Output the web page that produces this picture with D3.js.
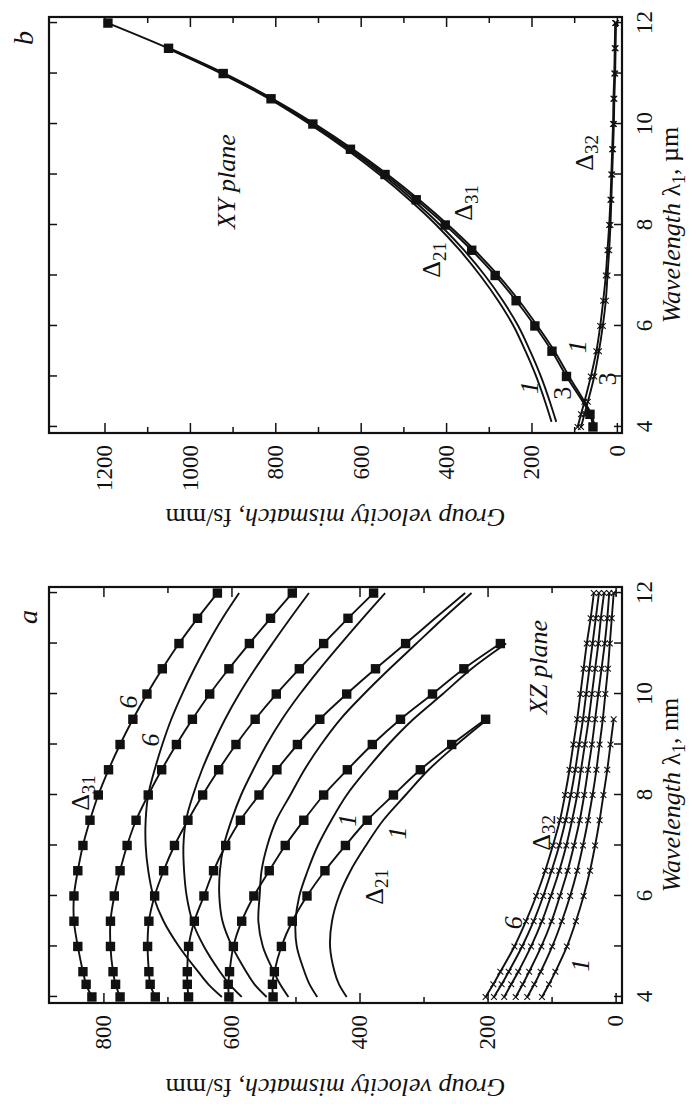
<!DOCTYPE html>
<html><head><meta charset="utf-8">
<script src="https://cdn.jsdelivr.net/npm/d3@7"></script>
<style>body{margin:0;background:#fff} svg{display:block}</style>
</head><body>
<svg id="c" width="690" height="1104"></svg>
<script>
// ---------- Panel a (XZ plane), wavelength in nm ----------
const lamA = [4, 4.25, 4.5, 5, 5.5, 6, 6.5, 7, 7.5, 8, 8.5, 9, 9.5, 10, 10.5, 11, 11.5, 12];
// Delta31 (square markers), parameter 1..6
const d31a_1 = [535, 536, 533, 522, 505, 482, 454, 422, 388, 347, 305, 256, 203];
const d31a_2 = [604, 605, 603, 597, 584, 565, 541, 516, 487, 456, 419, 380, 336, 286, 237, 180];
const d31a_3 = [667, 669, 669, 667, 658, 643, 628, 609, 586, 557, 529, 497, 462, 420, 375, 328, 282, 235];
const d31a_4 = [719, 727, 729, 731, 729, 720, 706, 689, 668, 645, 620, 593, 563, 530, 494, 456, 418, 378];
const d31a_5 = [774, 781, 785, 789, 789, 783, 774, 763, 749, 730, 709, 686, 661, 634, 604, 572, 539, 505];
const d31a_6 = [818, 827, 832, 840, 846, 846, 840, 832, 821, 808, 792, 774, 754, 732, 708, 682, 653, 622];
const d31a_3_lastMarkedLam = 11;
// Delta21 (plain lines)
const d21a_1 = [420, 432, 439, 446, 443, 432, 414, 390, 363, 328, 292, 248, 200];
const d21a_2 = [466, 478, 486, 498, 500, 494, 481, 465, 444, 420, 389, 355, 316, 270, 225, 171];
const d21a_3 = [511, 524, 534, 551, 558, 556, 553, 544, 530, 508, 486, 460, 430, 393, 353, 311, 269, 225];
const d21a_4 = [545, 564, 577, 599, 614, 619, 618, 612, 600, 585, 566, 545, 521, 493, 462, 429, 395, 360];
const d21a_5 = [584, 603, 618, 643, 661, 670, 674, 675, 671, 660, 646, 629, 610, 588, 563, 536, 508, 479];
const d21a_6 = [615, 636, 652, 682, 706, 722, 730, 734, 734, 730, 720, 708, 694, 677, 658, 637, 614, 588];
// Delta32 (cross markers)
const d32a_1 = [115, 104, 94, 76, 62, 50, 40, 32, 25, 19, 13, 8, 3];
const d32a_2 = [138, 127, 117, 99, 84, 71, 60, 51, 43, 36, 30, 25, 20, 16, 12, 9, 6, 3];
const d32a_3 = [156, 145, 135, 116, 100, 87, 75, 65, 56, 49, 43, 37, 32, 27, 22, 17, 13, 10];
const d32a_4 = [174, 163, 152, 132, 115, 101, 88, 77, 68, 60, 54, 48, 42, 37, 32, 27, 23, 18];
const d32a_5 = [190, 178, 167, 146, 128, 113, 100, 88, 78, 70, 63, 57, 51, 46, 41, 36, 31, 26];
const d32a_6 = [203, 191, 180, 158, 140, 124, 110, 98, 87, 79, 72, 66, 60, 55, 50, 45, 39, 34];

// ---------- Panel b (XY plane), wavelength in µm ----------
const lamB31 = [4, 4.25, 5, 5.5, 6, 6.5, 7, 7.5, 8, 8.5, 9, 9.5, 10, 10.5, 11, 11.5, 12];
const d31b_1 = [56, 63, 118, 152, 192, 236, 285, 340, 402, 470, 543, 624, 712, 810, 922, 1050, 1192];
const d31b_3 = [52, 60, 112, 146, 186, 229, 278, 333, 395, 463, 537, 618, 707, 806, 918, 1047];
const lamB21 = [4.1, 4.5, 5, 5.5, 6, 6.5, 7, 7.5, 8, 8.5, 9, 9.5, 10, 10.5, 11, 11.5];
const d21b_1 = [153, 168, 189, 214, 242, 278, 320, 368, 423, 486, 556, 634, 720, 815, 926, 1053];
const d21b_3 = [142, 157, 178, 203, 231, 267, 309, 358, 414, 478, 549, 628, 715, 811, 923, 1050];
const lamB32 = [4, 4.25, 4.5, 5, 5.5, 6, 6.5, 7, 7.5, 8, 8.5, 9, 9.5, 10, 10.5, 11, 11.5, 12];
const d32b_1 = [92, 84, 76, 61, 48, 39, 32, 26, 22, 18, 15, 13, 11, 9, 8, 6, 5, 4];
const d32b_3 = [84, 76, 68, 53, 42, 33, 26, 22, 18, 15, 13, 11, 9, 7, 6, 4, 3, 2];

// ---------- ticks ----------
const lamTicks = [4, 5, 6, 7, 8, 9, 10, 11, 12];
const lamTickLabels = [4, 6, 8, 10, 12];
const yMajorA = [0, 200, 400, 600, 800];
const yMinorA = [100, 300, 500, 700];
const yMajorB = [0, 200, 400, 600, 800, 1000, 1200];
const yMinorB = [100, 300, 500, 700, 900, 1100];

// ---------- annotations (data coordinates) ----------
const notesA = [
  {t: "Δ", sub: "31", lam: 8.04, v: 836},
  {t: "6", lam: 9.84, v: 761, it: true},
  {t: "6", lam: 9.09, v: 727, it: true},
  {t: "1", lam: 7.5, v: 419, it: true},
  {t: "1", lam: 7.25, v: 341, it: true},
  {t: "Δ", sub: "21", lam: 6.18, v: 378},
  {t: "Δ", sub: "32", lam: 7.25, v: 117},
  {t: "6", lam: 5.47, v: 161, it: true},
  {t: "1", lam: 4.63, v: 55, it: true},
  {t: "XZ plane", lam: 10.53, v: 122, it: true}
];
const notesB = [
  {t: "XY plane", lam: 8.86, v: 915, it: true},
  {t: "Δ", sub: "21", lam: 7.31, v: 435},
  {t: "Δ", sub: "31", lam: 8.44, v: 360},
  {t: "Δ", sub: "32", lam: 9.43, v: 78},
  {t: "1", lam: 4.78, v: 207, it: true},
  {t: "3", lam: 4.67, v: 129},
  {t: "1", lam: 5.59, v: 94, it: true},
  {t: "3", lam: 4.95, v: 24}
];

const FONT = "'Liberation Serif','Times New Roman',serif";
const svg = d3.select("#c");
svg.append("rect").attr("width", 690).attr("height", 1104).attr("fill", "#fff");
// whole figure is rotated 90° counter-clockwise
const root = svg.append("g").attr("transform", "translate(0,1104) rotate(-90)");

function drawPanel(cfg) {
  const g = root.append("g");
  const x = d3.scaleLinear().domain([3.88, 12.12]).range([cfg.x0, cfg.x1]);
  const y = d3.scaleLinear().domain(cfg.yDom).range([622, 49]);
  const top = 49, bot = 622;

  const styleAxis = sel => {
    sel.select(".domain").remove();
    sel.selectAll("line").attr("stroke", "#111").attr("stroke-width", 1.5);
    sel.selectAll("text").attr("font-family", FONT).attr("font-size", 23).attr("fill", "#111");
  };
  g.append("g").attr("transform", `translate(0,${bot})`)
    .call(d3.axisBottom(x).tickValues(lamTicks).tickSize(-8).tickPadding(14)
      .tickFormat(d => lamTickLabels.includes(d) ? d : ""))
    .call(styleAxis);
  g.append("g").attr("transform", `translate(0,${top})`)
    .call(d3.axisTop(x).tickValues(lamTicks).tickSize(-8).tickFormat(""))
    .call(styleAxis);
  g.append("g").attr("transform", `translate(${cfg.x0},0)`)
    .call(d3.axisLeft(y).tickValues(cfg.major).tickSize(-10).tickPadding(12).tickFormat(d3.format("d")))
    .call(styleAxis);
  g.append("g").attr("transform", `translate(${cfg.x0},0)`)
    .call(d3.axisLeft(y).tickValues(cfg.minor).tickSize(-6).tickFormat(""))
    .call(styleAxis);
  g.append("g").attr("transform", `translate(${cfg.x1},0)`)
    .call(d3.axisRight(y).tickValues(cfg.major).tickSize(-10).tickFormat(""))
    .call(styleAxis);
  g.append("g").attr("transform", `translate(${cfg.x1},0)`)
    .call(d3.axisRight(y).tickValues(cfg.minor).tickSize(-6).tickFormat(""))
    .call(styleAxis);

  const line = d3.line().x(d => x(d[0])).y(d => y(d[1])).curve(d3.curveCatmullRom.alpha(0.5));
  const pts = (lams, vals) => vals.map((v, i) => [lams[i], v]);

  cfg.series.forEach(s => {
    const p = pts(s.lam, s.vals);
    g.append("path").attr("d", line(p)).attr("fill", "none")
      .attr("stroke", "#111").attr("stroke-width", 1.9);
    const mp = s.markMax != null ? p.filter(d => d[0] <= s.markMax) : p;
    if (s.mark === "sq") {
      g.selectAll(null).data(mp).join("rect")
        .attr("x", d => x(d[0]) - 4.7).attr("y", d => y(d[1]) - 4.7)
        .attr("width", 9.4).attr("height", 9.4).attr("fill", "#111");
    } else if (s.mark === "x") {
      const r = 2.9;
      mp.forEach(d => {
        const cx = x(d[0]), cy = y(d[1]);
        g.append("path").attr("d", `M${cx - r},${cy - r}L${cx + r},${cy + r}M${cx - r},${cy + r}L${cx + r},${cy - r}`)
          .attr("stroke", "#111").attr("stroke-width", 1.1);
      });
    }
  });

  // frame
  g.append("rect").attr("x", cfg.x0).attr("y", top).attr("width", cfg.x1 - cfg.x0).attr("height", bot - top)
    .attr("fill", "none").attr("stroke", "#111").attr("stroke-width", 2.2);

  // annotations
  cfg.notes.forEach(n => {
    const t = g.append("text").attr("x", x(n.lam)).attr("y", y(n.v))
      .attr("text-anchor", "middle").attr("dy", "0.35em")
      .attr("font-family", FONT).attr("font-size", 26).attr("fill", "#111")
      .attr("font-style", n.it ? "italic" : "normal");
    t.append("tspan").text(n.t);
    if (n.sub) t.append("tspan").attr("font-size", 19).attr("dy", "0.3em").text(n.sub);
  });

  // axis titles
  const xt = g.append("text").attr("x", (cfg.x0 + cfg.x1) / 2).attr("y", 680)
    .attr("text-anchor", "middle").attr("font-family", FONT).attr("font-size", 26).attr("fill", "#111");
  xt.append("tspan").attr("font-style", "italic").text("Wavelength ");
  xt.append("tspan").text("λ");
  xt.append("tspan").attr("font-size", 18).attr("dy", "0.3em").text("1");
  xt.append("tspan").attr("dy", "-0.3em").text(", " + cfg.unit);

  const yt = g.append("text").attr("transform", `translate(${cfg.x0 - 76},${(top + bot) / 2}) rotate(-90)`)
    .attr("text-anchor", "middle").attr("font-family", FONT).attr("font-size", 26).attr("fill", "#111");
  yt.append("tspan").attr("font-style", "italic").text("Group velocity mismatch");
  yt.append("tspan").text(", fs/mm");

  g.append("text").attr("x", cfg.labX).attr("y", cfg.labY).attr("dy", "0.35em")
    .attr("text-anchor", "middle").attr("font-family", FONT).attr("font-size", 28)
    .attr("font-style", "italic").attr("fill", "#111").text(cfg.label);
}

drawPanel({
  x0: 101, x1: 517, yDom: [-10, 885], major: yMajorA, minor: yMinorA, unit: "nm",
  label: "a", labX: 487, labY: 27, notes: notesA,
  series: [
    {lam: lamA, vals: d21a_1}, {lam: lamA, vals: d21a_2}, {lam: lamA, vals: d21a_3},
    {lam: lamA, vals: d21a_4}, {lam: lamA, vals: d21a_5}, {lam: lamA, vals: d21a_6},
    {lam: lamA, vals: d31a_1, mark: "sq"}, {lam: lamA, vals: d31a_2, mark: "sq"},
    {lam: lamA, vals: d31a_3, mark: "sq", markMax: d31a_3_lastMarkedLam},
    {lam: lamA, vals: d31a_4, mark: "sq"}, {lam: lamA, vals: d31a_5, mark: "sq"},
    {lam: lamA, vals: d31a_6, mark: "sq"},
    {lam: lamA, vals: d32a_1, mark: "x"}, {lam: lamA, vals: d32a_2, mark: "x"},
    {lam: lamA, vals: d32a_3, mark: "x"}, {lam: lamA, vals: d32a_4, mark: "x"},
    {lam: lamA, vals: d32a_5, mark: "x"}, {lam: lamA, vals: d32a_6, mark: "x"}
  ]
});

drawPanel({
  x0: 671, x1: 1087, yDom: [-12, 1330], major: yMajorB, minor: yMinorB, unit: "µm",
  label: "b", labX: 1066, labY: 23, notes: notesB,
  series: [
    {lam: lamB21, vals: d21b_1}, {lam: lamB21, vals: d21b_3},
    {lam: lamB31, vals: d31b_3}, {lam: lamB31, vals: d31b_1, mark: "sq"},
    {lam: lamB32, vals: d32b_1, mark: "x"}, {lam: lamB32, vals: d32b_3, mark: "x"}
  ]
});
</script>
</body></html>
